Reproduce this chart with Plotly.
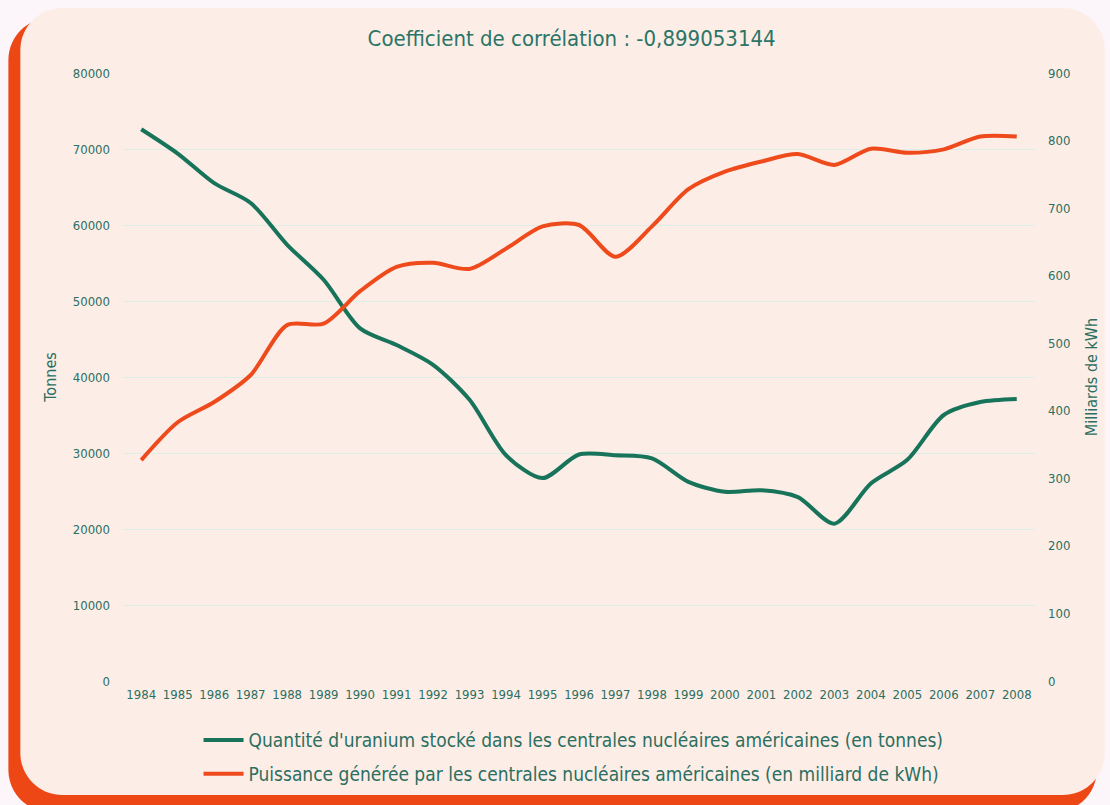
import plotly.graph_objects as go

years = list(range(1984, 2009))
uranium_tonnes = [72600, 69400, 65500, 62900, 57400, 52800, 46400, 44200, 41600, 37000,
                  29700, 26700, 29800, 29700, 29300, 26200, 24900, 25100, 24200, 20700,
                  26000, 29100, 35000, 36700, 37100]
puissance_kwh = [327, 383, 413, 453, 527, 529, 577, 613, 619, 610,
                 640, 673, 675, 628, 673, 728, 754, 769, 780, 764,
                 788, 782, 787, 806, 806]

left_ticks = [0, 10000, 20000, 30000, 40000, 50000, 60000, 70000, 80000]
right_ticks = [0, 100, 200, 300, 400, 500, 600, 700, 800, 900]

W, H = 1110, 805
ML, MR, MT, MB = 123, 72, 73, 124
PW, PH = W - ML - MR, H - MT - MB

def px(x):
    return (x - ML) / PW

def py(y):
    return (H - MB - y) / PH

def rrect(x0, y0, x1, y1, r):
    k = 0.45 * r
    pts = [
        f"M {px(x0 + r)} {py(y0)}",
        f"L {px(x1 - r)} {py(y0)}",
        f"C {px(x1 - k)} {py(y0)} {px(x1)} {py(y0 + k)} {px(x1)} {py(y0 + r)}",
        f"L {px(x1)} {py(y1 - r)}",
        f"C {px(x1)} {py(y1 - k)} {px(x1 - k)} {py(y1)} {px(x1 - r)} {py(y1)}",
        f"L {px(x0 + r)} {py(y1)}",
        f"C {px(x0 + k)} {py(y1)} {px(x0)} {py(y1 - k)} {px(x0)} {py(y1 - r)}",
        f"L {px(x0)} {py(y0 + r)}",
        f"C {px(x0)} {py(y0 + k)} {px(x0 + k)} {py(y0)} {px(x0 + r)} {py(y0)}",
        "Z",
    ]
    return " ".join(pts)

FONT = "DejaVu Sans Condensed, Liberation Sans Narrow, sans-serif"
TXT = "#2b6f60"
GREEN = "#17735a"
ORANGE = "#ee4a1c"

fig = go.Figure()
fig.add_trace(go.Scatter(
    x=years, y=uranium_tonnes, mode="lines", line=dict(color=GREEN, width=4, shape="spline", smoothing=0.8),
    name="Quantité d'uranium stocké dans les centrales nucléaires américaines (en tonnes)",
    legendgroup="a",
))
fig.add_trace(go.Scatter(
    x=years, y=puissance_kwh, mode="lines", line=dict(color=ORANGE, width=4, shape="spline", smoothing=0.8),
    name="Puissance générée par les centrales nucléaires américaines (en milliard de kWh)",
    yaxis="y2", legendgroup="b",
))

shapes = [
    dict(type="path", xref="paper", yref="paper", path=rrect(8, 18, 1100, 812, 42),
         fillcolor="#ee4716", line=dict(width=0), layer="below"),
    dict(type="path", xref="paper", yref="paper", path=rrect(20, 8, 1108, 795, 42),
         fillcolor="#fdede7", line=dict(width=0), layer="below"),
]

fig.update_layout(
    width=W, height=H,
    margin=dict(l=ML, r=MR, t=MT, b=MB),
    paper_bgcolor="#fcf6fb",
    plot_bgcolor="rgba(0,0,0,0)",
    shapes=shapes,
    font=dict(family=FONT, color=TXT),
    title=dict(text="Coefficient de corrélation : -0,899053144", x=0.515, xanchor="center",
               y=1 - 38 / H, yanchor="middle", font=dict(size=22, color="#2b7566", family=FONT)),
    xaxis=dict(range=[1983.5, 2008.5], tickmode="array", tickvals=years, ticktext=[str(y) for y in years],
               showgrid=False, zeroline=False, showline=False, ticks="",
               tickfont=dict(size=13, color=TXT), ticklabelstandoff=4),
    yaxis=dict(range=[0, 80000], tickmode="array", tickvals=left_ticks, ticktext=[str(v) for v in left_ticks],
               showgrid=True, gridcolor="#ddeee6", gridwidth=1, zeroline=False, showline=False, ticks="",
               tickfont=dict(size=13, color=TXT), ticklabelstandoff=12,
               title=dict(text="Tonnes", font=dict(size=16, color=TXT), standoff=12)),
    yaxis2=dict(range=[0, 900], tickmode="array", tickvals=right_ticks, ticktext=[str(v) for v in right_ticks],
                overlaying="y", side="right", showgrid=False, zeroline=False, showline=False, ticks="",
                tickfont=dict(size=13, color=TXT), ticklabelstandoff=12,
                title=dict(text="Milliards de kWh", font=dict(size=16, color=TXT), standoff=16)),
    legend=dict(orientation="v", x=0.494, xanchor="center", y=-0.066, yanchor="top",
                font=dict(size=19, color=TXT), bgcolor="rgba(0,0,0,0)", tracegroupgap=6,
                itemwidth=40),
    showlegend=True,
)

fig.write_html("out.html", config={"displayModeBar": False},
               post_script="document.body.style.margin='0';document.body.style.background='#fcf6fb';")
